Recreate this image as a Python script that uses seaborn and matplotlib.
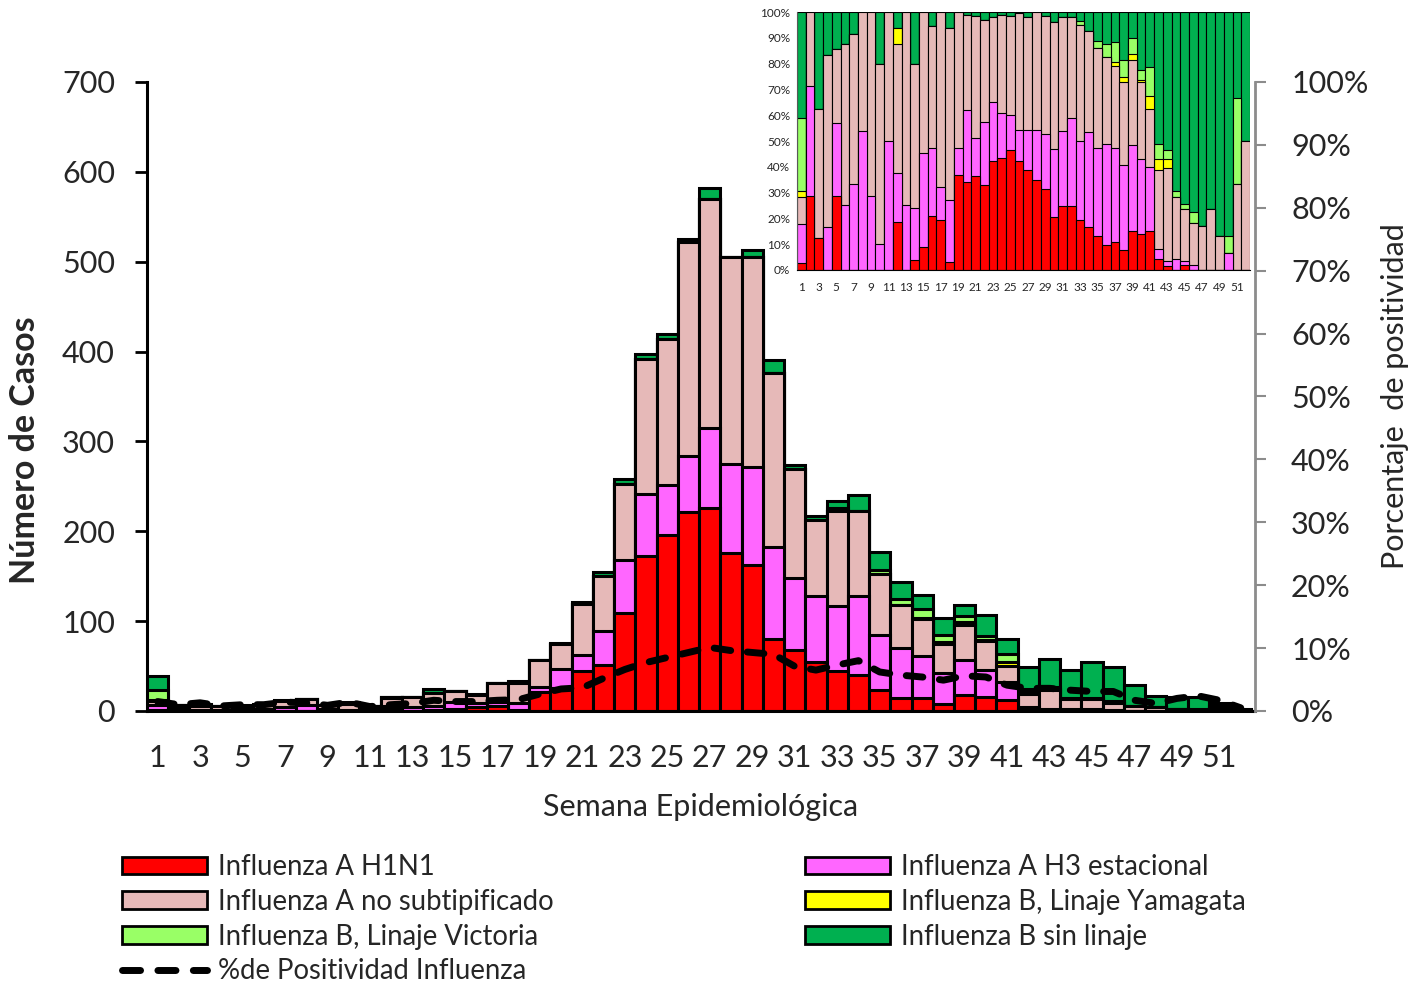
import numpy as np
import pandas as pd
import matplotlib
matplotlib.use("Agg")
import matplotlib.pyplot as plt
import seaborn as sns
from matplotlib.patches import Patch
from matplotlib.lines import Line2D

sns.set_style("white")
plt.rcParams['font.family'] = ['Lato', 'DejaVu Sans']

semanas = list(range(1, 53))

h1n1 = [1, 2, 1, 0, 2, 0, 0, 0, 0, 0,
        0, 3, 0, 1, 2, 4, 6, 1, 21, 26,
        44, 51, 109, 172, 196, 221, 226, 176, 162, 80,
        68, 54, 45, 40, 23, 14, 14, 8, 18, 15,
        12, 2, 1, 0, 1, 0, 0, 0, 0, 0,
        0, 0]
h3 = [6, 3, 0, 1, 2, 2, 4, 7, 2, 1,
      3, 3, 4, 5, 8, 5, 4, 8, 6, 21,
      18, 38, 59, 69, 56, 63, 89, 99, 109, 103,
      80, 74, 72, 88, 61, 56, 47, 34, 39, 31,
      20, 2, 1, 2, 1, 1, 0, 0, 0, 1,
      0, 0]
no_subtip = [4, 2, 4, 4, 2, 5, 7, 6, 5, 7,
             3, 8, 12, 14, 12, 9, 21, 22, 30, 28,
             57, 61, 85, 151, 162, 238, 255, 230, 234, 193,
             121, 85, 105, 94, 68, 48, 41, 33, 39, 32,
             18, 15, 21, 11, 11, 8, 5, 4, 2, 0,
             3, 1]
yamagata = [1, 0, 0, 0, 0, 0, 0, 0, 0, 0,
            0, 1, 0, 0, 0, 0, 0, 0, 0, 0,
            0, 0, 0, 0, 0, 0, 0, 0, 0, 0,
            0, 0, 0, 0, 0, 0, 2, 2, 3, 1,
            4, 2, 2, 0, 0, 0, 0, 0, 0, 0,
            0, 0]
victoria = [11, 0, 0, 0, 0, 0, 0, 0, 0, 0,
            0, 0, 0, 0, 0, 0, 0, 0, 0, 0,
            0, 0, 0, 0, 0, 0, 0, 0, 0, 0,
            0, 0, 4, 0, 5, 7, 10, 7, 7, 4,
            9, 3, 2, 1, 1, 2, 0, 0, 0, 1,
            3, 0]
sin_linaje = [16, 0, 3, 1, 1, 1, 1, 0, 0, 2,
              0, 1, 0, 5, 0, 1, 0, 2, 0, 1,
              2, 5, 5, 5, 6, 3, 12, 0, 8, 15,
              5, 4, 8, 18, 20, 18, 15, 19, 12, 24,
              17, 25, 31, 32, 41, 38, 24, 13, 13, 13,
              3, 1]
positividad = [1.5, 1.0, 1.3, 0.8, 1.0, 1.0, 1.4, 1.3, 0.9, 1.4,
               0.7, 1.0, 1.2, 1.7, 1.5, 1.5, 1.7, 1.8, 2.7, 3.5,
               3.7, 5.2, 6.6, 7.7, 8.5, 9.3, 10.1, 9.6, 9.3, 9.0,
               7.1, 6.5, 7.3, 8.0, 6.2, 5.7, 5.4, 4.9, 5.6, 5.4,
               4.1, 3.6, 3.6, 3.3, 3.1, 3.1, 1.7, 1.2, 2.0, 2.4,
               1.7, 0.5]

nombres = ['Influenza A H1N1', 'Influenza A H3 estacional', 'Influenza A no subtipificado',
           'Influenza B, Linaje Yamagata', 'Influenza B, Linaje Victoria', 'Influenza B sin linaje']
colores = ['#FF0000', '#FF66FF', '#E6B9B8', '#FFFF00', '#99FF66', '#00B050']

df = pd.DataFrame({'semana': semanas})
series = [h1n1, h3, no_subtip, yamagata, victoria, sin_linaje]
acum = np.cumsum(np.array(series, dtype=float), axis=0)
total = acum[-1]

fig = plt.figure(figsize=(14.24, 9.85), dpi=100)
ax = fig.add_axes([0.1032, 0.2782, 0.7781, 0.6386])

# stacked bars: draw cumulative totals from top layer down
for i in reversed(range(len(series))):
    sns.barplot(x=df['semana'], y=acum[i], ax=ax, native_scale=True, width=1.0,
                color=colores[i], saturation=1, edgecolor='black', linewidth=2.2,
                errorbar=None)

ax.set_xlim(0.5, 52.67)
ax.set_ylim(0, 700)
ax.set_yticks(range(0, 701, 100))
ax.set_xticks(np.arange(0.5, 53, 1))
ax.set_xticklabels([])
ax.set_xticks(range(1, 53, 2), minor=True)
ax.set_xticklabels([str(s) for s in range(1, 53, 2)], minor=True)
ax.tick_params(axis='x', which='major', direction='out', length=10, width=2, color='black')
ax.tick_params(axis='x', which='minor', length=0, labelsize=22, pad=24)
ax.tick_params(axis='y', direction='out', length=9, width=2, labelsize=22, color='black', pad=14)
for s in ['top', 'right']:
    ax.spines[s].set_visible(False)
for s in ['left', 'bottom']:
    ax.spines[s].set_color('black')
    ax.spines[s].set_linewidth(2.2)
ax.set_xlabel('Semana Epidemiológica', fontsize=22, labelpad=15)
ax.set_ylabel('Número de Casos', fontsize=24.5, fontweight='bold')
ax.yaxis.set_label_coords(-0.096, 0.415)

# positivity on a secondary axis
ax2 = ax.twinx()
ax2.plot(semanas, positividad, color='black', linewidth=5,
         linestyle=(0, (2.4, 2.4)), dash_capstyle='round', solid_capstyle='round')
ax2.set_ylim(0, 100)
ax2.set_yticks(range(0, 101, 10))
ax2.set_yticklabels([f'{v}%' for v in range(0, 101, 10)])
ax2.tick_params(axis='y', direction='out', length=8, width=1.5, color='#8c8c8c', labelsize=22, pad=18)
for s in ['top', 'left', 'bottom']:
    ax2.spines[s].set_visible(False)
ax2.spines['right'].set_color('#8c8c8c')
ax2.spines['right'].set_linewidth(2)
ax2.set_ylabel('Porcentaje  de positividad', fontsize=22, labelpad=9)

# inset: percentage composition per week
axi = fig.add_axes([0.5597, 0.7259, 0.3181, 0.2619])
pct = acum / total * 100
for i in reversed(range(len(series))):
    sns.barplot(x=df['semana'], y=pct[i], ax=axi, native_scale=True, width=1.0,
                color=colores[i], saturation=1, edgecolor='black', linewidth=0.8,
                errorbar=None)
axi.set_xlim(0.5, 52.5)
axi.set_ylim(0, 100)
axi.set_yticks(range(0, 101, 10))
axi.set_yticklabels([f'{v}%' for v in range(0, 101, 10)])
axi.set_xticks(np.arange(0.5, 53, 1))
axi.set_xticklabels([])
axi.set_xticks(range(1, 53, 2), minor=True)
axi.set_xticklabels([str(s) for s in range(1, 53, 2)], minor=True)
axi.tick_params(axis='x', which='major', direction='out', length=3, width=0.8)
axi.tick_params(axis='x', which='minor', length=0, labelsize=8.5, pad=9)
axi.tick_params(axis='y', direction='out', length=3, width=0.8, labelsize=8.5, pad=2)
axi.set_xlabel('')
axi.set_ylabel('')
for s in ['top', 'right']:
    axi.spines[s].set_visible(False)
axi.spines['left'].set_color('#595959')
axi.spines['bottom'].set_color('black')
axi.patch.set_alpha(0)

# legends
def parche(i):
    return Patch(facecolor=colores[i], edgecolor='black', linewidth=2)

h_izq = [parche(0), parche(2), parche(4),
         Line2D([0], [0], color='black', linewidth=5, linestyle=(0, (2.6, 2.5)),
                dash_capstyle='round')]
l_izq = [nombres[0], nombres[2], nombres[4], '%de Positividad Influenza']
h_der = [parche(1), parche(3), parche(5)]
l_der = [nombres[1], nombres[3], nombres[5]]

kw = dict(frameon=False, fontsize=19.8, handlelength=3.1, handleheight=0.6,
          handletextpad=0.4, labelspacing=0.32, borderpad=0, borderaxespad=0)
fig.legend(h_izq, l_izq, loc='upper left', bbox_to_anchor=(0.0857, 0.133), **kw)
fig.legend(h_der, l_der, loc='upper left', bbox_to_anchor=(0.5653, 0.133), **kw)

fig.savefig('out.png', dpi=100)
